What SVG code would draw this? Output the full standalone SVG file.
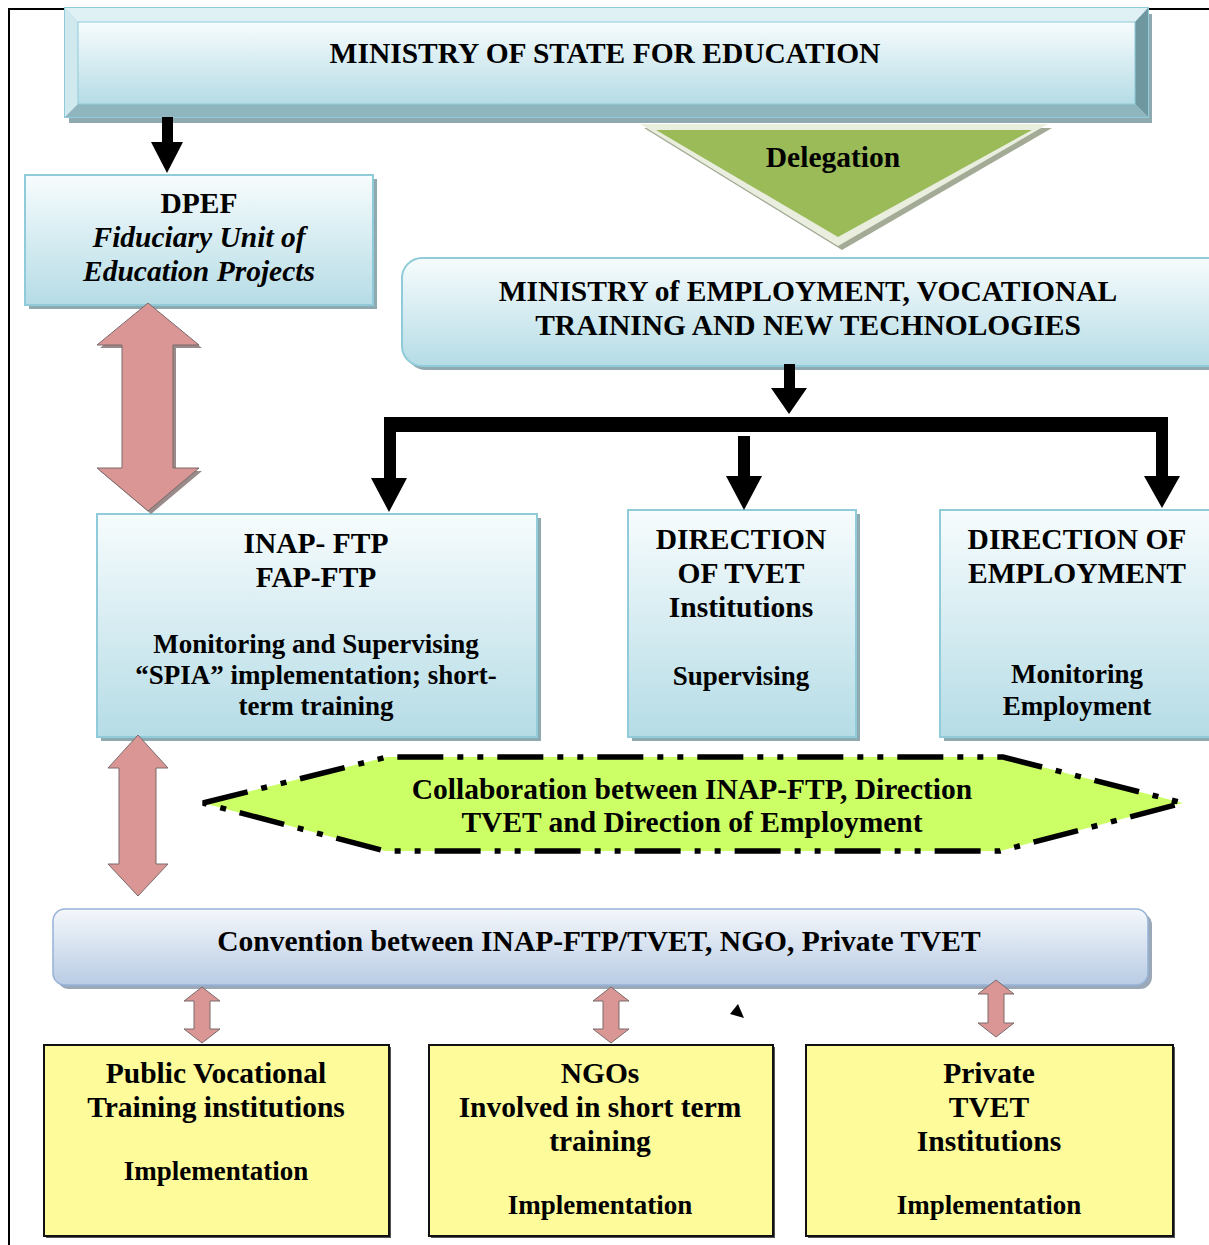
<svg xmlns="http://www.w3.org/2000/svg" width="1209" height="1245" viewBox="0 0 1209 1245">
<defs>
  <linearGradient id="blueG" x1="0" y1="0" x2="0" y2="1">
    <stop offset="0" stop-color="#f7fcfd"/>
    <stop offset="1" stop-color="#b5dce6"/>
  </linearGradient>
  <linearGradient id="convG" x1="0" y1="0" x2="0" y2="1">
    <stop offset="0" stop-color="#f4f7fb"/>
    <stop offset="1" stop-color="#b9cce4"/>
  </linearGradient>
  <style>
    text { font-family: "Liberation Serif", "Times New Roman", serif; font-weight: bold; fill: #000; text-anchor: middle; }
    .t26 { font-size: 29.5px; }
    .t25 { font-size: 27px; }
    .it { font-style: italic; }
    .bbox { fill: url(#blueG); stroke: #8fcbd9; stroke-width: 2; }
    .shadow { fill: #8fa9b0; }
    .ybox { fill: #fdfb9a; stroke: #111; stroke-width: 2; }
    .yshadow { fill: #555; }
    .blk { fill: #000; }
    .pink { fill: #d99694; stroke: #7a6b6b; stroke-width: 1; }
  </style>
</defs>

<!-- outer frame -->
<g id="frame" fill="none" stroke="#000" stroke-width="2">
  <path d="M66 9 H9 V1245"/>
  <path d="M1147 9 H1209"/>
</g>

<!-- Ministry of State for Education -->
<g id="node-ministry-education">
  <rect x="69" y="14" width="1083" height="109" fill="#8fa9b0"/>
  <rect x="65" y="8" width="1083" height="109" fill="#b3dbe5" stroke="#8fcbd9" stroke-width="2"/>
  <polygon points="65,8 1148,8 1135,22 78,22" fill="#dff1f5"/>
  <polygon points="65,8 78,22 78,104 65,117" fill="#cfe9ef"/>
  <polygon points="1148,8 1148,117 1135,104 1135,22" fill="#6f979f"/>
  <polygon points="65,117 1148,117 1135,104 78,104" fill="#8fb5be"/>
  <rect x="78" y="22" width="1057" height="82" fill="url(#blueG)" stroke="#8fcbd9" stroke-width="1"/>
  <text class="t26" x="605" y="63">MINISTRY OF STATE FOR EDUCATION</text>
</g>

<!-- DPEF -->
<g id="node-dpef">
  <rect x="29" y="179" width="348" height="130" class="shadow"/>
  <rect x="25" y="175" width="348" height="130" class="bbox"/>
  <text class="t26" x="199" y="213">DPEF</text>
  <text class="t26 it" x="199" y="247">Fiduciary Unit of</text>
  <text class="t26 it" x="199" y="281">Education Projects</text>
</g>

<!-- Delegation -->
<g id="node-delegation">
  <polygon points="644,128 1052,128 842,250" fill="#a3ab96"/>
  <polygon points="640,124 1048,124 838,246" fill="#e9eedf"/>
  <polygon points="656,130 1032,130 838,237" fill="#9bbb59"/>
  <text class="t26" x="833" y="167">Delegation</text>
</g>

<!-- Ministry of Employment -->
<g id="node-ministry-employment">
  <rect x="406" y="262" width="830" height="108" rx="20" class="shadow"/>
  <rect x="402" y="258" width="830" height="108" rx="20" class="bbox"/>
  <text class="t26" x="808" y="301">MINISTRY of EMPLOYMENT, VOCATIONAL</text>
  <text class="t26" x="808" y="335">TRAINING AND NEW TECHNOLOGIES</text>
</g>

<!-- INAP-FTP -->
<g id="node-inap">
  <rect x="101" y="518" width="440" height="223" class="shadow"/>
  <rect x="97" y="514" width="440" height="223" class="bbox"/>
  <text class="t26" x="316" y="553">INAP- FTP</text>
  <text class="t26" x="316" y="587">FAP-FTP</text>
  <text class="t25" x="316" y="653">Monitoring and Supervising</text>
  <text class="t25" x="316" y="684">“SPIA” implementation; short-</text>
  <text class="t25" x="316" y="715">term training</text>
</g>

<!-- Direction of TVET -->
<g id="node-direction-tvet">
  <rect x="632" y="514" width="228" height="227" class="shadow"/>
  <rect x="628" y="510" width="228" height="227" class="bbox"/>
  <text class="t26" x="741" y="549">DIRECTION</text>
  <text class="t26" x="741" y="583">OF TVET</text>
  <text class="t26" x="741" y="617">Institutions</text>
  <text class="t25" x="741" y="685">Supervising</text>
</g>

<!-- Direction of Employment -->
<g id="node-direction-employment">
  <rect x="944" y="514" width="280" height="227" class="shadow"/>
  <rect x="940" y="510" width="280" height="227" class="bbox"/>
  <text class="t26" x="1077" y="549">DIRECTION OF</text>
  <text class="t26" x="1077" y="583">EMPLOYMENT</text>
  <text class="t25" x="1077" y="683">Monitoring</text>
  <text class="t25" x="1077" y="715">Employment</text>
</g>

<!-- Collaboration -->
<g id="node-collaboration">
  <polygon points="203,803 387,757 1003,757 1183,803 1000,851 385,851" fill="#ccff66" stroke="#000" stroke-width="5.5" stroke-dasharray="46 14 6 14 6 14"/>
  <text class="t26" x="692" y="799">Collaboration between INAP-FTP, Direction</text>
  <text class="t26" x="692" y="832">TVET and Direction of Employment</text>
</g>

<!-- Convention -->
<g id="node-convention">
  <rect x="57" y="913" width="1095" height="76" rx="12" fill="#9aa8b8"/>
  <rect x="53" y="909" width="1095" height="76" rx="12" fill="url(#convG)" stroke="#95b3d7" stroke-width="1.5"/>
  <text class="t26" x="599" y="951">Convention between INAP-FTP/TVET, NGO, Private TVET</text>
</g>

<!-- Yellow boxes -->
<g id="node-public-vti">
  <rect x="46" y="1047" width="345" height="191" class="yshadow"/>
  <rect x="44" y="1045" width="345" height="191" class="ybox"/>
  <text class="t26" x="216" y="1083">Public Vocational</text>
  <text class="t26" x="216" y="1117">Training institutions</text>
  <text class="t25" x="216" y="1180">Implementation</text>
</g>
<g id="node-ngos">
  <rect x="431" y="1047" width="344" height="191" class="yshadow"/>
  <rect x="429" y="1045" width="344" height="191" class="ybox"/>
  <text class="t26" x="600" y="1083">NGOs</text>
  <text class="t26" x="600" y="1117">Involved in short term</text>
  <text class="t26" x="600" y="1151">training</text>
  <text class="t25" x="600" y="1214">Implementation</text>
</g>
<g id="node-private-tvet">
  <rect x="808" y="1047" width="367" height="191" class="yshadow"/>
  <rect x="806" y="1045" width="367" height="191" class="ybox"/>
  <text class="t26" x="989" y="1083">Private</text>
  <text class="t26" x="989" y="1117">TVET</text>
  <text class="t26" x="989" y="1151">Institutions</text>
  <text class="t25" x="989" y="1214">Implementation</text>
</g>

<!-- Connectors -->
<g id="connectors">
  <!-- black arrows -->
  <polygon class="blk" points="162,117 173,117 173,142 183,142 167,173 151,142 162,142"/>
  <polygon class="blk" points="784,364 795,364 795,388 807,388 789,414 771,388 784,388"/>
  <rect class="blk" x="384" y="417" width="784" height="15"/>
  <polygon class="blk" points="384,432 396,432 396,478 407,478 389,512 371,478 384,478"/>
  <polygon class="blk" points="738,436 750,436 750,476 762,476 744,510 726,476 738,476"/>
  <polygon class="blk" points="1156,432 1168,432 1168,476 1180,476 1162,508 1144,476 1156,476"/>
  <!-- pink double arrows -->
  <polygon fill="#9a8a8a" points="151,306 202,348 176,348 176,471 202,471 151,514 100,471 125,471 125,348 100,348"/>
  <polygon class="pink" points="148,303 199,345 173,345 173,468 199,468 148,511 97,468 122,468 122,345 97,345"/>
  <polygon class="pink" points="138,735 168,768 156,768 156,864 168,864 138,896 108,864 119,864 119,768 108,768"/>
  <polygon class="pink" points="202,987 220,1001 210,1001 210,1029 220,1029 202,1043 184,1029 194,1029 194,1001 184,1001"/>
  <polygon class="pink" points="611,987 629,1001 619,1001 619,1029 629,1029 611,1043 593,1029 603,1029 603,1001 593,1001"/>
  <polygon class="pink" points="996,980 1014,994 1004,994 1004,1023 1014,1023 996,1037 978,1023 988,1023 988,994 978,994"/>
  <polygon class="blk" points="738,1004 744,1018 730,1014"/>
</g>
</svg>
